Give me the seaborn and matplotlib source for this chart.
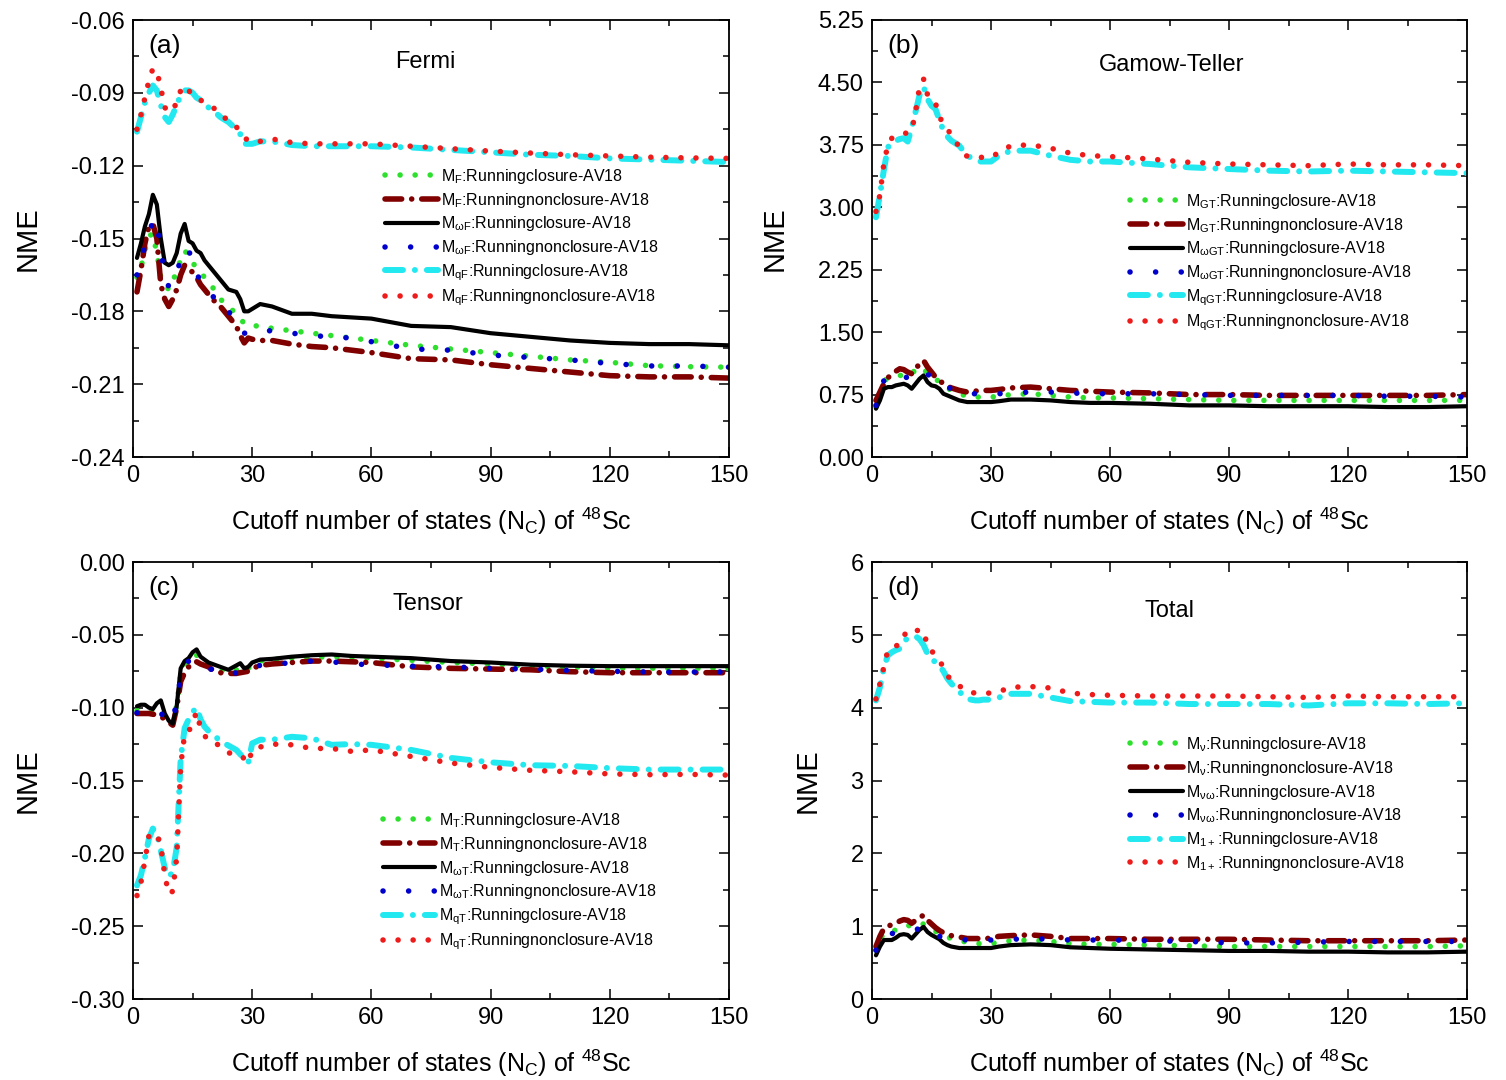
import matplotlib
matplotlib.use("Agg")
import matplotlib.pyplot as plt
from matplotlib.ticker import MultipleLocator, FormatStrFormatter
import seaborn as sns
import pandas as pd

# ---------------- data ----------------
X = [1, 2, 3, 4, 5, 6, 7, 8, 9, 10, 11, 12, 13, 14, 15, 16, 17, 18, 19, 20,
     22, 24, 26, 27, 28, 29, 30, 32, 35, 40, 45, 50, 55, 60, 70, 80, 90, 100,
     110, 120, 130, 140, 150]

# (a) Fermi
F_clo = [-0.166, -0.162, -0.155, -0.149, -0.148, -0.156, -0.166, -0.169, -0.171, -0.168,
         -0.163, -0.159, -0.155, -0.157, -0.160, -0.162, -0.164, -0.166, -0.168, -0.170,
         -0.175, -0.178, -0.181, -0.183, -0.185, -0.186, -0.186, -0.186, -0.187, -0.188,
         -0.189, -0.190, -0.191, -0.192, -0.194, -0.1955, -0.197, -0.1985, -0.200, -0.201,
         -0.2024, -0.2028, -0.203]
F_non = [-0.172, -0.163, -0.152, -0.145, -0.144, -0.150, -0.169, -0.175, -0.178, -0.175,
         -0.171, -0.165, -0.161, -0.162, -0.164, -0.166, -0.169, -0.171, -0.173, -0.175,
         -0.178, -0.182, -0.186, -0.190, -0.193, -0.191, -0.1915, -0.192, -0.192, -0.1935,
         -0.1945, -0.195, -0.196, -0.197, -0.1995, -0.200, -0.202, -0.2035, -0.205, -0.2065,
         -0.207, -0.207, -0.2075]
wF_clo = [-0.158, -0.152, -0.145, -0.140, -0.132, -0.136, -0.150, -0.160, -0.161, -0.160,
          -0.156, -0.148, -0.144, -0.151, -0.152, -0.155, -0.156, -0.159, -0.161, -0.163,
          -0.167, -0.171, -0.172, -0.175, -0.180, -0.180, -0.179, -0.177, -0.178, -0.181,
          -0.181, -0.182, -0.1825, -0.183, -0.186, -0.1865, -0.189, -0.1905, -0.192, -0.193,
          -0.1935, -0.1935, -0.194]
wF_non = [-0.165, -0.159, -0.153, -0.148, -0.143, -0.142, -0.156, -0.164, -0.170, -0.168,
          -0.165, -0.158, -0.154, -0.155, -0.159, -0.164, -0.168, -0.171, -0.173, -0.174,
          -0.174, -0.180, -0.184, -0.186, -0.189, -0.189, -0.188, -0.188, -0.188, -0.189,
          -0.190, -0.1905, -0.191, -0.1925, -0.1955, -0.196, -0.198, -0.199, -0.200, -0.2015,
          -0.2025, -0.2025, -0.203]
qF_clo = [-0.106, -0.100, -0.094, -0.090, -0.087, -0.089, -0.095, -0.100, -0.102, -0.099,
          -0.095, -0.091, -0.089, -0.089, -0.090, -0.092, -0.093, -0.094, -0.096, -0.097,
          -0.100, -0.102, -0.105, -0.107, -0.111, -0.111, -0.111, -0.110, -0.110, -0.1115,
          -0.112, -0.112, -0.112, -0.112, -0.1125, -0.1135, -0.1145, -0.1155, -0.116, -0.117,
          -0.1175, -0.118, -0.1185]
qF_non = [-0.105, -0.099, -0.092, -0.085, -0.080, -0.081, -0.088, -0.096, -0.098, -0.097,
          -0.094, -0.089, -0.087, -0.089, -0.091, -0.092, -0.093, -0.094, -0.095, -0.096,
          -0.098, -0.102, -0.104, -0.106, -0.108, -0.110, -0.110, -0.110, -0.109, -0.1105,
          -0.111, -0.111, -0.111, -0.111, -0.112, -0.113, -0.114, -0.1148, -0.1155, -0.116,
          -0.1165, -0.1168, -0.117]

# (b) Gamow-Teller
GT_clo = [0.60, 0.75, 0.92, 0.94, 0.96, 0.97, 0.98, 0.98, 0.97, 1.00,
          1.05, 1.08, 1.06, 1.00, 0.96, 0.94, 0.90, 0.86, 0.83, 0.80,
          0.76, 0.73, 0.72, 0.72, 0.72, 0.72, 0.72, 0.73, 0.75, 0.76,
          0.74, 0.72, 0.71, 0.71, 0.70, 0.69, 0.68, 0.68, 0.68, 0.68,
          0.68, 0.68, 0.68]
GT_non = [0.68, 0.78, 0.88, 0.95, 1.00, 1.03, 1.06, 1.05, 1.02, 1.00,
          1.06, 1.12, 1.16, 1.08, 1.02, 0.96, 0.92, 0.88, 0.85, 0.83,
          0.80, 0.78, 0.79, 0.80, 0.80, 0.80, 0.80, 0.81, 0.83, 0.84,
          0.82, 0.80, 0.79, 0.78, 0.77, 0.75, 0.75, 0.74, 0.74, 0.74,
          0.74, 0.74, 0.75]
wGT_clo = [0.58, 0.68, 0.82, 0.84, 0.84, 0.86, 0.87, 0.88, 0.86, 0.82,
           0.88, 0.94, 0.98, 0.90, 0.86, 0.85, 0.82, 0.76, 0.74, 0.72,
           0.68, 0.66, 0.66, 0.66, 0.66, 0.66, 0.66, 0.67, 0.69, 0.69,
           0.68, 0.66, 0.65, 0.65, 0.64, 0.62, 0.62, 0.61, 0.61, 0.61,
           0.60, 0.60, 0.61]
wGT_non = [0.62, 0.75, 0.92, 0.96, 0.98, 1.00, 0.99, 0.97, 0.95, 0.93,
           0.96, 1.00, 1.02, 1.00, 0.94, 0.90, 0.88, 0.86, 0.84, 0.82,
           0.79, 0.76, 0.76, 0.76, 0.76, 0.76, 0.76, 0.76, 0.77, 0.78,
           0.78, 0.77, 0.76, 0.76, 0.76, 0.75, 0.74, 0.74, 0.74, 0.74,
           0.73, 0.73, 0.72]
qGT_clo = [2.88, 3.15, 3.45, 3.72, 3.78, 3.80, 3.82, 3.83, 3.79, 3.95,
           4.15, 4.35, 4.45, 4.30, 4.22, 4.18, 4.05, 3.92, 3.85, 3.80,
           3.74, 3.62, 3.57, 3.55, 3.55, 3.55, 3.55, 3.62, 3.68, 3.68,
           3.62, 3.57, 3.55, 3.55, 3.52, 3.48, 3.46, 3.44, 3.43, 3.44,
           3.43, 3.42, 3.41]
qGT_non = [2.95, 3.15, 3.53, 3.75, 3.83, 3.85, 3.87, 3.89, 3.89, 3.92,
           4.15, 4.45, 4.54, 4.35, 4.33, 4.25, 4.10, 3.98, 3.93, 3.88,
           3.72, 3.61, 3.60, 3.60, 3.60, 3.60, 3.60, 3.66, 3.74, 3.75,
           3.71, 3.65, 3.62, 3.61, 3.58, 3.54, 3.52, 3.51, 3.50, 3.52,
           3.51, 3.51, 3.50]

# (c) Tensor
T_clo = [-0.102, -0.1015, -0.101, -0.102, -0.103, -0.102, -0.101, -0.106, -0.109, -0.111,
         -0.098, -0.077, -0.070, -0.067, -0.065, -0.064, -0.067, -0.069, -0.070, -0.071,
         -0.074, -0.076, -0.074, -0.072, -0.074, -0.073, -0.070, -0.068, -0.067, -0.066,
         -0.0655, -0.065, -0.0655, -0.066, -0.0675, -0.069, -0.070, -0.0715, -0.072, -0.073,
         -0.073, -0.073, -0.073]
T_non = [-0.104, -0.104, -0.104, -0.104, -0.1045, -0.105, -0.106, -0.108, -0.110, -0.112,
         -0.100, -0.082, -0.076, -0.072, -0.069, -0.0685, -0.070, -0.071, -0.072, -0.074,
         -0.076, -0.0765, -0.0765, -0.076, -0.0755, -0.075, -0.073, -0.071, -0.070, -0.069,
         -0.068, -0.068, -0.0685, -0.069, -0.072, -0.073, -0.0735, -0.074, -0.0753, -0.076,
         -0.076, -0.076, -0.076]
wT_clo = [-0.099, -0.098, -0.098, -0.100, -0.101, -0.097, -0.095, -0.104, -0.109, -0.111,
          -0.099, -0.073, -0.068, -0.066, -0.062, -0.060, -0.065, -0.067, -0.069, -0.070,
          -0.072, -0.074, -0.071, -0.0695, -0.073, -0.072, -0.069, -0.067, -0.0665, -0.065,
          -0.064, -0.0635, -0.0645, -0.065, -0.066, -0.068, -0.069, -0.0705, -0.0712, -0.0715,
          -0.0715, -0.0715, -0.0715]
wT_non = [-0.1035, -0.103, -0.103, -0.103, -0.1028, -0.1028, -0.104, -0.106, -0.108, -0.110,
          -0.095, -0.080, -0.072, -0.068, -0.067, -0.068, -0.070, -0.072, -0.073, -0.074,
          -0.076, -0.0775, -0.076, -0.075, -0.075, -0.074, -0.072, -0.071, -0.0705, -0.069,
          -0.068, -0.0685, -0.070, -0.0705, -0.0715, -0.072, -0.073, -0.0735, -0.0745, -0.075,
          -0.0755, -0.0755, -0.0755]
qT_clo = [-0.222, -0.215, -0.203, -0.190, -0.183, -0.186, -0.198, -0.210, -0.216, -0.213,
          -0.196, -0.135, -0.114, -0.108, -0.103, -0.100, -0.108, -0.113, -0.116, -0.118,
          -0.123, -0.126, -0.129, -0.132, -0.135, -0.138, -0.1245, -0.122, -0.122, -0.120,
          -0.121, -0.1255, -0.125, -0.1255, -0.129, -0.1345, -0.1375, -0.1395, -0.140, -0.1415,
          -0.1425, -0.1425, -0.1425]
qT_non = [-0.229, -0.220, -0.205, -0.188, -0.1865, -0.1865, -0.195, -0.215, -0.228, -0.226,
          -0.203, -0.140, -0.118, -0.1166, -0.110, -0.103, -0.114, -0.119, -0.123, -0.124,
          -0.126, -0.131, -0.132, -0.1326, -0.135, -0.138, -0.129, -0.127, -0.125, -0.1255,
          -0.128, -0.128, -0.130, -0.129, -0.1335, -0.138, -0.141, -0.143, -0.144, -0.1455,
          -0.146, -0.1458, -0.1463]

# (d) Total
v_clo = [0.67, 0.82, 0.90, 0.91, 0.92, 0.95, 0.98, 1.00, 1.01, 1.00,
         0.99, 1.02, 1.03, 0.99, 0.95, 0.93, 0.90, 0.87, 0.85, 0.83,
         0.80, 0.78, 0.77, 0.76, 0.76, 0.76, 0.76, 0.78, 0.80, 0.81,
         0.79, 0.76, 0.75, 0.75, 0.74, 0.73, 0.72, 0.72, 0.72, 0.72,
         0.72, 0.72, 0.73]
v_non = [0.72, 0.86, 0.97, 1.00, 1.02, 1.04, 1.07, 1.09, 1.08, 1.04,
         1.08, 1.12, 1.15, 1.08, 1.03, 0.98, 0.94, 0.91, 0.89, 0.87,
         0.85, 0.83, 0.83, 0.83, 0.83, 0.83, 0.84, 0.86, 0.87, 0.88,
         0.86, 0.83, 0.83, 0.83, 0.82, 0.82, 0.82, 0.81, 0.80, 0.80,
         0.80, 0.80, 0.81]
vw_clo = [0.60, 0.72, 0.81, 0.81, 0.81, 0.84, 0.88, 0.89, 0.88, 0.83,
          0.89, 0.95, 0.99, 0.92, 0.88, 0.85, 0.82, 0.77, 0.74, 0.72,
          0.70, 0.70, 0.70, 0.70, 0.70, 0.70, 0.70, 0.72, 0.74, 0.75,
          0.74, 0.71, 0.70, 0.69, 0.68, 0.67, 0.66, 0.66, 0.65, 0.65,
          0.64, 0.64, 0.65]
vw_non = [0.67, 0.80, 0.86, 0.90, 0.90, 0.90, 0.90, 0.92, 0.93, 0.94,
          0.95, 0.97, 0.99, 0.97, 0.92, 0.88, 0.86, 0.85, 0.84, 0.83,
          0.82, 0.81, 0.81, 0.81, 0.81, 0.81, 0.81, 0.81, 0.82, 0.83,
          0.82, 0.81, 0.81, 0.81, 0.80, 0.79, 0.77, 0.77, 0.78, 0.79,
          0.79, 0.79, 0.79]
t1_clo = [4.10, 4.28, 4.55, 4.72, 4.76, 4.79, 4.81, 4.90, 4.96, 4.97,
          4.98, 4.94, 4.86, 4.74, 4.68, 4.62, 4.58, 4.50, 4.40, 4.33,
          4.22, 4.12, 4.10, 4.10, 4.11, 4.11, 4.11, 4.14, 4.19, 4.19,
          4.14, 4.09, 4.08, 4.07, 4.07, 4.05, 4.05, 4.05, 4.03, 4.06,
          4.06, 4.05, 4.06]
t1_non = [4.12, 4.33, 4.56, 4.79, 4.82, 4.85, 4.86, 4.98, 5.07, 5.06,
          5.06, 5.06, 5.06, 4.84, 4.78, 4.72, 4.65, 4.55, 4.44, 4.38,
          4.30, 4.22, 4.20, 4.20, 4.20, 4.20, 4.20, 4.22, 4.28, 4.29,
          4.27, 4.20, 4.18, 4.17, 4.16, 4.16, 4.16, 4.15, 4.14, 4.16,
          4.15, 4.15, 4.15]

suffix_clo = ":Runningclosure-AV18"
suffix_non = ":Runningnonclosure-AV18"
panel_tags = ["(a)", "(b)", "(c)", "(d)"]
panel_titles = ["Fermi", "Gamow-Teller", "Tensor", "Total"]
subs = [["F", r"\omega F", "qF"], ["GT", r"\omega GT", "qGT"],
        ["T", r"\omega T", "qT"], [r"\nu", r"\nu\omega", "1+"]]
series = [[F_clo, F_non, wF_clo, wF_non, qF_clo, qF_non],
          [GT_clo, GT_non, wGT_clo, wGT_non, qGT_clo, qGT_non],
          [T_clo, T_non, wT_clo, wT_non, qT_clo, qT_non],
          [v_clo, v_non, vw_clo, vw_non, t1_clo, t1_non]]

# ---------------- style ----------------
sns.set_style("ticks")
plt.rcParams["font.family"] = ["Liberation Sans", "DejaVu Sans"]
plt.rcParams["mathtext.default"] = "regular"
plt.rcParams["axes.unicode_minus"] = False
plt.rcParams["text.color"] = "black"
plt.rcParams["axes.labelcolor"] = "black"
plt.rcParams["xtick.color"] = "black"
plt.rcParams["ytick.color"] = "black"

colors = ["#2ee02e", "#800000", "#000000", "#0000cc", "#22e8f0", "#ee1b1b"]
styles = [
    dict(linestyle=(0, (0.01, 2.7)), linewidth=4.0, dash_capstyle="round"),
    dict(linestyle=(0, (3.0, 1.8, 0.01, 1.8)), linewidth=4.0, dash_capstyle="round"),
    dict(linestyle="-", linewidth=3.0),
    dict(linestyle=(0, (0.01, 4.6)), linewidth=4.0, dash_capstyle="round"),
    dict(linestyle=(0, (3.0, 2.0, 0.01, 2.0)), linewidth=4.3, dash_capstyle="round"),
    dict(linestyle=(0, (0.01, 2.7)), linewidth=4.0, dash_capstyle="round"),
]

W, H = 1506, 1080
fig = plt.figure(figsize=(W / 100, H / 100), dpi=100)

boxes = [(133, 20, 729, 457), (872, 20, 1467, 457),
         (133, 562, 729, 999), (872, 562, 1467, 999)]
ylims = [(-0.24, -0.06), (0.0, 5.25), (-0.30, 0.0), (0, 6)]
ymaj = [0.03, 0.75, 0.05, 1]
yfmt = ["%.2f", "%.2f", "%.2f", "%d"]
title_pos = [(0.49, 0.905), (0.504, 0.898), (0.495, 0.905), (0.50, 0.888)]
leg_pos = [(0.423, 0.664), (0.434, 0.607), (0.419, 0.430), (0.434, 0.604)]

for i, (l, t, r, b) in enumerate(boxes):
    ax = fig.add_axes([l / W, 1 - b / H, (r - l) / W, (b - t) / H])
    for j in range(6):
        lab = "M$_{%s}$%s" % (subs[i][j // 2], suffix_clo if j % 2 == 0 else suffix_non)
        df = pd.DataFrame({"x": X, "y": series[i][j]})
        sns.lineplot(data=df, x="x", y="y", ax=ax, color=colors[j], label=lab,
                     errorbar=None, **styles[j])
    ax.set_xlim(0, 150)
    ax.set_ylim(*ylims[i])
    ax.xaxis.set_major_locator(MultipleLocator(30))
    ax.xaxis.set_minor_locator(MultipleLocator(15))
    ax.yaxis.set_major_locator(MultipleLocator(ymaj[i]))
    ax.yaxis.set_minor_locator(MultipleLocator(ymaj[i] / 2))
    ax.yaxis.set_major_formatter(FormatStrFormatter(yfmt[i]))
    ax.tick_params(which="both", direction="in", top=True, right=True,
                   labelsize=17, width=1.1, colors="black")
    ax.tick_params(which="major", length=7, pad=6)
    ax.tick_params(which="minor", length=4)
    for s in ax.spines.values():
        s.set_linewidth(1.3)
        s.set_color("black")
    ax.set_xlabel("Cutoff number of states (N$_C$) of $^{48}$Sc", fontsize=18,
                  labelpad=13, color="black")
    ax.set_ylabel("NME", fontsize=21, labelpad=21, color="black")
    ax.text(0.025, 0.94, panel_tags[i], transform=ax.transAxes, fontsize=19,
            ha="left", va="center", color="black")
    ax.text(title_pos[i][0], title_pos[i][1], panel_titles[i], transform=ax.transAxes,
            fontsize=17, ha="center", va="center", color="black")
    ax.legend(loc="upper left", bbox_to_anchor=leg_pos[i], frameon=False, fontsize=11.5,
              handlelength=3.3, handletextpad=0.2, labelspacing=0.3,
              borderaxespad=0, borderpad=0, labelcolor="black")

fig.savefig("out.png", dpi=100)
